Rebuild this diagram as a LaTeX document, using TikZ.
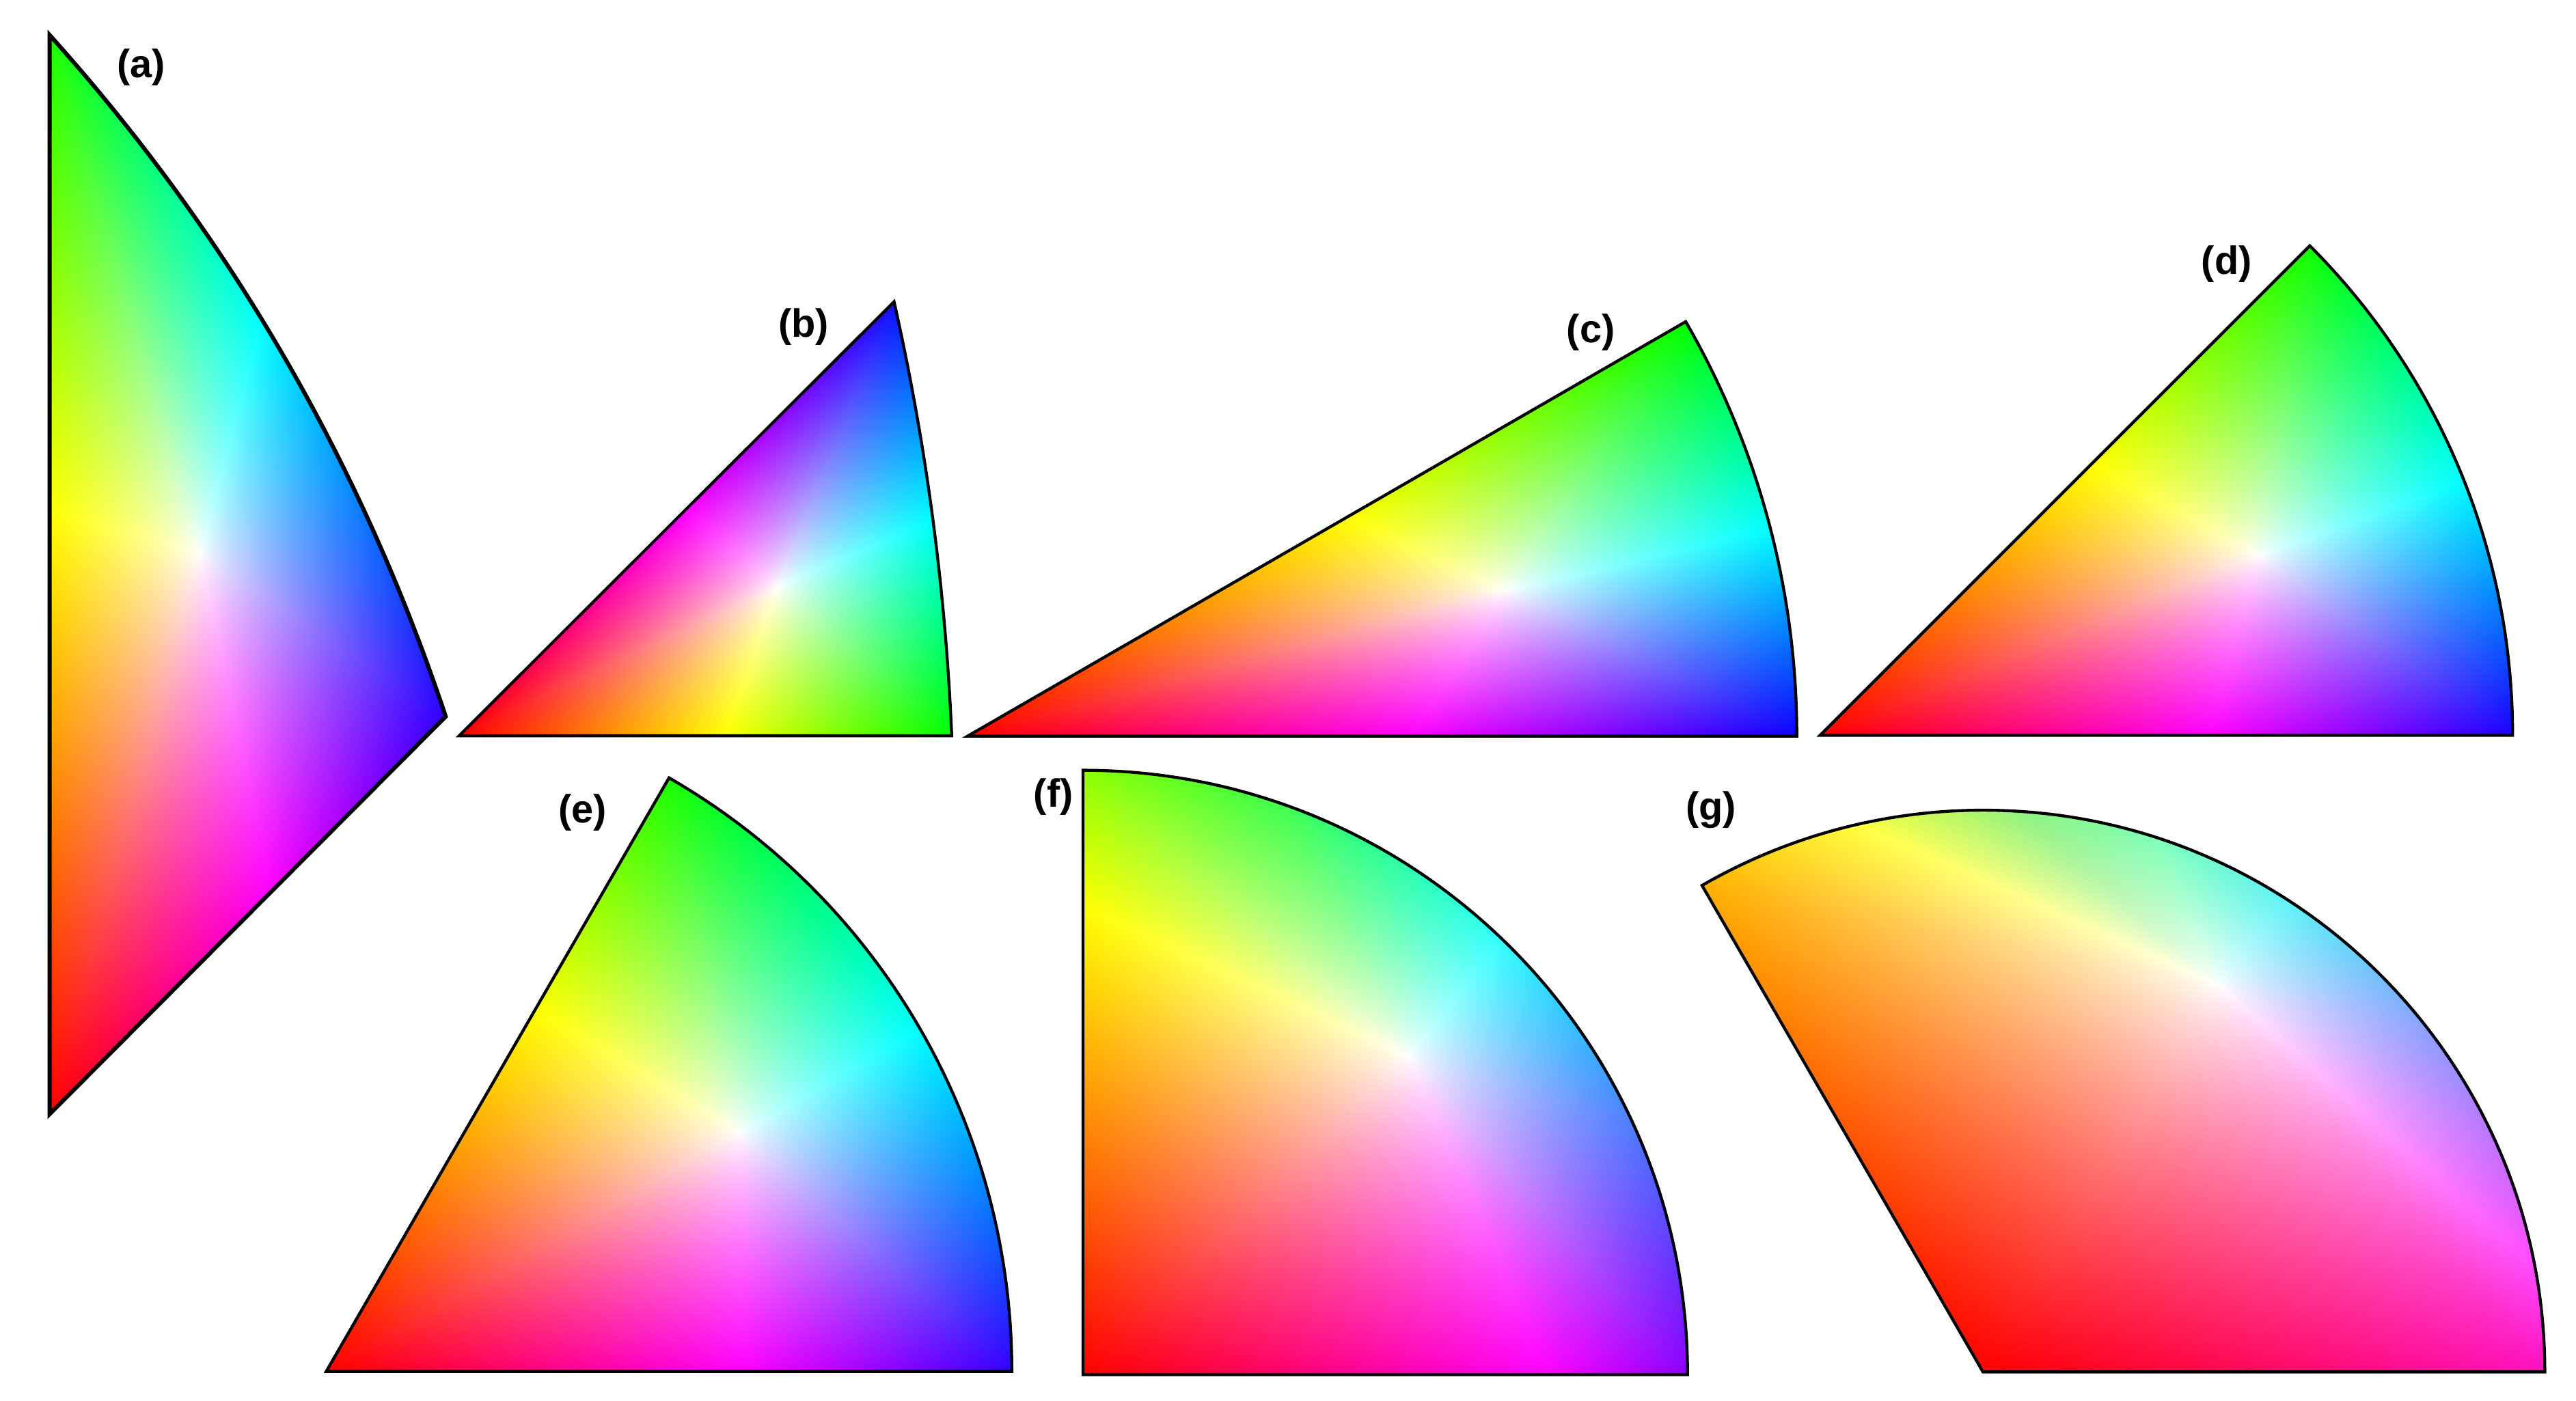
\documentclass[tikz,border=0pt]{standalone}
\usepackage{fontspec}
\setmainfont{Liberation Sans}
\ExplSyntaxOn
\cs_new:Npn \ipfdec #1 { \fp_to_decimal:n { round( #1 , 6 ) } }
\ExplSyntaxOff
\newcount\ipfcount
\def\ipfgam{-0.2}
\newcommand\ipfread[5]{%
  \xdef\ipfnx{\ipfdec{((#1)-\ipfWx)/100}}%
  \xdef\ipfny{\ipfdec{(\ipfWy-(#2))/100}}%
  \xdef\ipfnr{#3}\xdef\ipfng{#4}\xdef\ipfnb{#5}%
  \xdef\ipfnrel{\ipfdec{(atand(\ipfny,\ipfnx)-\ipfphi)-360*floor((atand(\ipfny,\ipfnx)-\ipfphi)/360)}}}
\newcommand\ipfshift{%
  \global\let\ipfpx\ipfnx \global\let\ipfpy\ipfny
  \global\let\ipfpr\ipfnr \global\let\ipfpg\ipfng \global\let\ipfpb\ipfnb
  \global\let\ipfprel\ipfnrel}
\newcommand\ipfstart[7]{%
  \xdef\ipfWx{#1}\xdef\ipfWy{#2}\gdef\ipfphi{0}%
  \ipfread{#3}{#4}{#5}{#6}{#7}%
  \xdef\ipfphi{\ipfnrel}\gdef\ipfnrel{0}%
  \gdef\ipffirst{{#3}{#4}{#5}{#6}{#7}}%
  \ipfshift\global\ipfcount=0 }
\def\ipfclamp{dup 0 lt {pop 0} if dup 1 gt {pop 1} if}
\newcommand\ipfaddsector{%
  \xdef\ipfD{\ipfdec{\ipfpx*\ipfny-\ipfpy*\ipfnx}}%
  \xdef\ipfS{2 copy \ipfdec{-\ipfnx/\ipfD} mul exch \ipfdec{\ipfny/\ipfD} mul add 3 1 roll \ipfdec{\ipfpx/\ipfD} mul exch \ipfdec{-\ipfpy/\ipfD} mul add 2 copy add abs 0.000001 add \ipfgam\space exp dup 3 1 roll mul 3 1 roll mul exch 2 copy \ipfdec{\ipfnr-1} mul exch \ipfdec{\ipfpr-1} mul add 1 add \ipfclamp\space 3 1 roll 2 copy \ipfdec{\ipfng-1} mul exch \ipfdec{\ipfpg-1} mul add 1 add \ipfclamp\space 3 1 roll \ipfdec{\ipfnb-1} mul exch \ipfdec{\ipfpb-1} mul add 1 add \ipfclamp}%
  \ifnum\ipfcount=0
    \xdef\ipfacc{pop \ipfS}%
  \else
    \xdef\ipfacc{dup \ipfprel\space ge {pop \ipfS} {\ipfacc} ifelse}%
  \fi
  \global\advance\ipfcount by 1 }
\newcommand\ipfpoint[5]{\ipfread{#1}{#2}{#3}{#4}{#5}\ipfaddsector\ipfshift}
% the bounding box of the shaded path is mapped onto the inner [-25bp,25bp] square
\newcommand\ipfend[5]{%
  \expandafter\ipfpoint\ipffirst
  \xdef\ipffunc{\ipfdec{((#5)-(#3))/5000} mul \ipfdec{(\ipfWy-((#3)+(#5))/2)/100} add exch \ipfdec{((#4)-(#2))/5000} mul \ipfdec{(((#2)+(#4))/2-\ipfWx)/100+0.0000034} add exch 2 copy exch atan \ipfphi\space sub 360 add dup 360 ge {360 sub} if \ipfacc}%
  \begingroup\edef\x{\endgroup\noexpand\pgfdeclarefunctionalshading{#1}{\noexpand\pgfpoint{-50bp}{-50bp}}{\noexpand\pgfpoint{50bp}{50bp}}{}{\ipffunc}}\x}

% (a)
\ipfstart{121.9}{337}{271.3}{436.3}{0.18}{0}{1}
\ipfpoint{159.2}{194.2}{0}{1}{1}
\ipfpoint{30.2}{21.3}{0.1}{1}{0}
\ipfpoint{30.2}{311}{1}{1}{0}
\ipfpoint{30.2}{678.4}{1}{0}{0}
\ipfpoint{164.3}{543.6}{1}{0}{1}
\ipfend{ipfa}{20}{10}{285}{690}
% (b)
\ipfstart{473}{356.9}{579.3}{448}{0}{1}{0}
\ipfpoint{567}{317}{0}{1}{1}
\ipfpoint{544.2}{183.7}{0.05}{0.05}{1}
\ipfpoint{417.1}{310.6}{1}{0}{1}
\ipfpoint{279.5}{448}{1}{0}{0}
\ipfpoint{440.8}{448}{1}{1}{0}
\ipfend{ipfb}{270}{175}{590}{456}
% (c)
\ipfstart{916.5}{359.8}{1093.7}{448.2}{0.05}{0}{1}
\ipfpoint{1077.6}{321.8}{0}{1}{1}
\ipfpoint{1026.1}{195.85}{0}{1}{0}
\ipfpoint{820.7}{314.5}{1}{1}{0}
\ipfpoint{589}{448.2}{1}{0}{0}
\ipfpoint{859.7}{448.2}{1}{0}{1}
\ipfend{ipfc}{580}{188}{1100}{456}
% (d)
\ipfstart{1375}{338.4}{1529.4}{447.7}{0.1}{0}{1}
\ipfpoint{1499.8}{292.5}{0}{1}{1}
\ipfpoint{1405.95}{149.65}{0.05}{1}{0}
\ipfpoint{1273.3}{282.3}{1}{1}{0}
\ipfpoint{1107.9}{447.7}{1}{0}{0}
\ipfpoint{1345.4}{447.7}{1}{0}{1}
\ipfend{ipfd}{1100}{142}{1537}{455}
% (e)
\ipfstart{449.8}{689.8}{615.9}{835}{0.2}{0}{1}
\ipfpoint{560}{626.4}{0}{1}{1}
\ipfpoint{407.25}{473.6}{0.1}{1}{0}
\ipfpoint{325.9}{614.5}{1}{1}{0}
\ipfpoint{198.6}{835}{1}{0}{0}
\ipfpoint{452.6}{835}{1}{0}{1}
\ipfend{ipfe}{190}{466}{623}{842}
% (f)
\ipfstart{857.3}{643.3}{1027.2}{837}{0.55}{0}{1}
\ipfpoint{992.7}{681.5}{0.3}{0.5}{1}
\ipfpoint{914.8}{572.3}{0.2}{1}{1}
\ipfpoint{779.0}{489.0}{0.25}{1}{0.3}
\ipfpoint{659.2}{469}{0.55}{1}{0}
\ipfpoint{659.2}{552}{1}{1}{0}
\ipfpoint{659.2}{837}{1}{0}{0}
\ipfpoint{941.1}{837}{1}{0}{1}
\ipfend{ipff}{652}{462}{1034}{844}
% (g)
\ipfstart{1350}{599.3}{1549}{835.3}{1}{0.06}{0.75}
\ipfpoint{1542.7}{770.0}{1}{0.3}{1}
\ipfpoint{1519.4}{696.2}{0.75}{0.45}{1}
\ipfpoint{1480.1}{629.5}{0.55}{0.62}{1}
\ipfpoint{1393.3}{548.5}{0.38}{0.95}{0.97}
\ipfpoint{1312.7}{510}{0.5}{1}{0.72}
\ipfpoint{1230.9}{494.1}{0.56}{0.95}{0.5}
\ipfpoint{1130.1}{502.1}{1}{1}{0.25}
\ipfpoint{1036}{539.1}{1}{0.69}{0}
\ipfpoint{1207}{835.3}{1}{0}{0}
\ipfend{ipfg}{1029}{486}{1556}{842}

\tikzset{
  outline/.style={draw=black, line width=1.8pt, line join=miter},
  lab/.style={font=\fontsize{24}{28}\selectfont\bfseries, inner sep=0pt}
}
\begin{document}
\begin{tikzpicture}[x=1pt,y=1pt]
\useasboundingbox (0,0) rectangle (1568,-853);
% (a)
\def\pa{(30.2,-21.3) -- (30.2,-678.4) -- (271.3,-436.3) .. controls (219.7,-281.3) and (139.4,-142.9) .. cycle}
\begin{scope}\clip \pa; \shade[shading=ipfa] (20,-690) rectangle (285,-10);\end{scope}
\draw[outline, line width=2.5pt] \pa;
% (b)
\def\pb{(279.5,-448) -- (579.3,-448) .. controls (575.5,-358.9) and (563.8,-270.8) .. (544.2,-183.7) -- cycle}
\begin{scope}\clip \pb; \shade[shading=ipfb] (270,-456) rectangle (590,-175);\end{scope}
\draw[outline] \pb;
% (c)
\def\pc{(589,-448.2) -- (1093.7,-448.2) arc[start angle=0, end angle=30, radius=504.7] -- cycle}
\begin{scope}\clip \pc; \shade[shading=ipfc] (580,-456) rectangle (1100,-188);\end{scope}
\draw[outline] \pc;
% (d)
\def\pd{(1107.9,-447.7) -- (1529.4,-447.7) arc[start angle=0, end angle=45, radius=421.5] -- cycle}
\begin{scope}\clip \pd; \shade[shading=ipfd] (1100,-455) rectangle (1537,-142);\end{scope}
\draw[outline] \pd;
% (e)
\def\pe{(198.6,-835) -- (615.9,-835) arc[start angle=0, end angle=60, radius=417.3] -- cycle}
\begin{scope}\clip \pe; \shade[shading=ipfe] (190,-842) rectangle (623,-466);\end{scope}
\draw[outline] \pe;
% (f)
\def\pf{(659.2,-837) -- (1027.2,-837) arc[start angle=0, end angle=90, radius=368] -- cycle}
\begin{scope}\clip \pf; \shade[shading=ipff] (652,-844) rectangle (1034,-462);\end{scope}
\draw[outline] \pf;
% (g)
\def\pg{(1207,-835.3) -- (1549,-835.3) arc[start angle=0, end angle=120, radius=342] -- cycle}
\begin{scope}\clip \pg; \shade[shading=ipfg] (1029,-842) rectangle (1556,-486);\end{scope}
\draw[outline] \pg;
% labels
\node[lab] (la) at (86,-40.8) {(a)};
\node[lab] (lb) at (489.1,-199) {(b)};
\node[lab] (lc) at (968.3,-202.3) {(c)};
\node[lab] (ld) at (1355.3,-160.8) {(d)};
\node[lab] (le) at (354.7,-494.6) {(e)};
\node[lab] (lf) at (641.2,-485.4) {(f)};
\node[lab] (lg) at (1041.4,-493) {(g)};
\end{tikzpicture}
\end{document}
